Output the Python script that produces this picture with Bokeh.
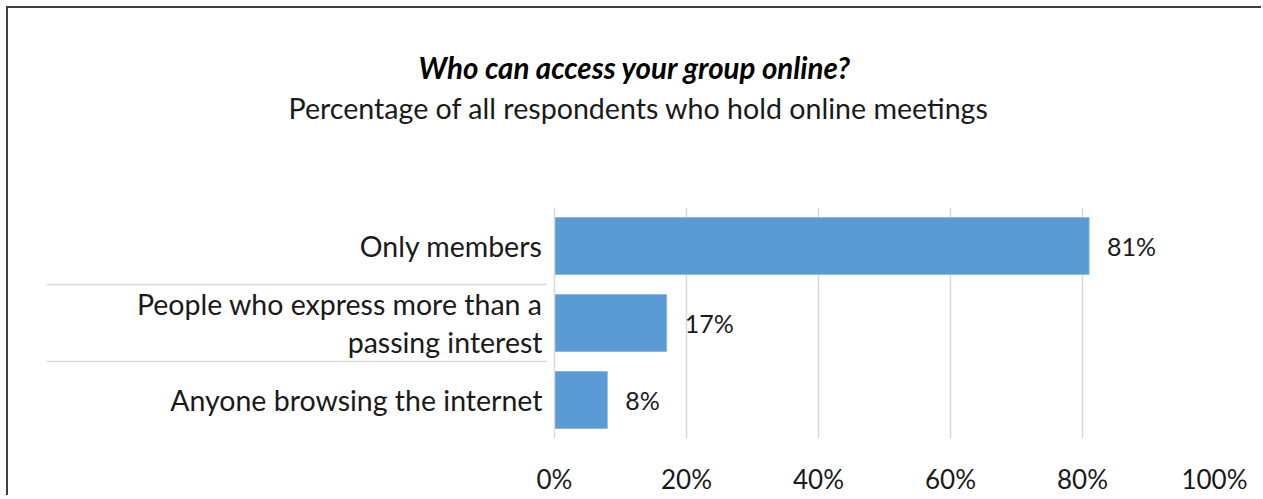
from bokeh.plotting import figure
from bokeh.models import (Range1d, LinearAxis, FixedTicker, Title, ColumnDataSource,
                          NumeralTickFormatter)
from bokeh.core.properties import value
from bokeh.embed import file_html
from bokeh.resources import INLINE

# ---- data ----
categories = ["Anyone browsing the internet",
              "People who express more than a\npassing interest",
              "Only members"]
values = [0.08, 0.17, 0.81]
value_labels = ["8%", "17%", "81%"]
x_ticks = [0.0, 0.2, 0.4, 0.6, 0.8, 1.0]
title_text = "Who can access your group online?"
subtitle_text = "Percentage of all respondents who hold online meetings"

FONT = "Lato"
TXT = "#1a1a1a"
GRID = "#d9d9d9"

n = len(categories)
ypos = [i + 0.5 for i in range(n)]           # category band centres
separators = [i for i in range(1, n)]         # band boundaries

src = ColumnDataSource(dict(y=ypos, val=values, lab=value_labels))

p = figure(width=1255, height=489, output_backend="svg", toolbar_location=None,
           y_range=Range1d(0, n), x_range=Range1d(0, 1.0),
           x_axis_location=None, y_axis_location=None,
           min_border_left=546, min_border_right=49, min_border_top=199, min_border_bottom=56)
p.outline_line_color = None
p.background_fill_color = "white"
p.border_fill_color = "white"
p.styles = {"margin-left": "6px", "margin-top": "6px",
            "border-left": "2px solid #404040", "border-top": "2px solid #404040"}

SEP_OUT = 508
yaxis = LinearAxis(ticker=FixedTicker(ticks=ypos, minor_ticks=separators),
                   major_label_overrides={y: c for y, c in zip(ypos, categories)},
                   axis_line_color=GRID, axis_line_width=1.5,
                   major_tick_line_color=None, major_tick_in=0, major_tick_out=0,
                   minor_tick_line_color=GRID, minor_tick_line_width=1.5,
                   minor_tick_in=-8, minor_tick_out=SEP_OUT,
                   major_label_standoff=12 - SEP_OUT,
                   major_label_text_font=FONT, major_label_text_font_size="28.5px",
                   major_label_text_color=TXT, major_label_text_line_height=1.14)
p.add_layout(yaxis, "left")

xaxis = LinearAxis(ticker=FixedTicker(ticks=x_ticks),
                   formatter=NumeralTickFormatter(format="0%"),
                   axis_line_color=None, major_tick_line_color=None, minor_tick_line_color=None,
                   major_tick_in=0, major_tick_out=0, major_label_standoff=24,
                   major_label_text_font=FONT, major_label_text_font_size="26px",
                   major_label_text_color=TXT)
p.add_layout(xaxis, "below")

p.xgrid.ticker = FixedTicker(ticks=x_ticks)
p.xgrid.grid_line_color = GRID
p.xgrid.grid_line_width = 1.5
p.ygrid.grid_line_color = None

p.hbar(y="y", right="val", left=0, height=0.74, source=src,
       fill_color="#5B9BD5", line_color="#8DB8E2", line_width=1)

p.text(x="val", y="y", text="lab", source=src, x_offset=18,
       text_align="left", text_baseline="middle",
       text_font=value(FONT), text_font_size="25px", text_color=TXT)

# titles stacked above the frame (first added sits nearest the frame)
p.add_layout(Title(text=" ", text_font_size="20px", standoff=58), "above")
p.add_layout(Title(text=subtitle_text, align="left", offset=-266,
                   vertical_align="middle", standoff=0,
                   text_font=FONT, text_font_size="28.6px", text_font_style="normal",
                   text_color=TXT), "above")
p.add_layout(Title(text=title_text, align="left", offset=-136,
                   vertical_align="middle", standoff=8,
                   text_font=FONT, text_font_size="29.5px", text_font_style="bold italic",
                   text_color="#000000"), "above")

open("out.html", "w").write(file_html(p, INLINE))
